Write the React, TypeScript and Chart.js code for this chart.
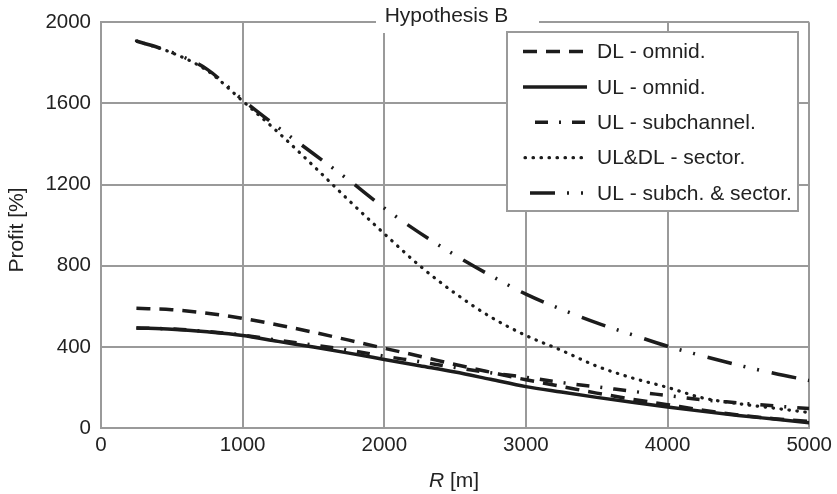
import { useEffect, useRef } from "react";
import { Chart, registerables } from "chart.js";

Chart.register(...registerables);

// R [m]
const radii = [250, 500, 750, 1000, 1250, 1500, 1750, 2000, 2250, 2500, 2750, 3000, 3250, 3500, 3750, 4000, 4250, 4500, 4750, 5000];
// Profit [%]
const dlOmnid = [590, 583, 566, 540, 508, 472, 433, 393, 354, 313, 275, 238, 205, 172, 142, 115, 88, 64, 46, 32];
const ulOmnid = [493, 487, 474, 456, 427, 399, 369, 338, 307, 276, 240, 204, 177, 151, 127, 104, 82, 62, 44, 26];
const ulSubchannel = [493, 488, 476, 458, 433, 409, 384, 354, 327, 298, 272, 250, 224, 203, 181, 160, 139, 124, 109, 96];
const ulDlSector = [1908, 1850, 1762, 1612, 1458, 1292, 1122, 958, 800, 664, 548, 456, 383, 305, 247, 200, 148, 120, 98, 76];
const ulSubchSector = [1908, 1852, 1768, 1618, 1482, 1352, 1222, 1084, 962, 852, 752, 660, 585, 518, 460, 403, 355, 310, 270, 234];

const seriesLabels = ["DL - omnid.", "UL - omnid.", "UL - subchannel.", "UL&DL - sector.", "UL - subch. & sector."];
const seriesValues = [dlOmnid, ulOmnid, ulSubchannel, ulDlSector, ulSubchSector];
const seriesDashes = [[14, 9], [], [13, 11, 2, 11], [0.5, 7.5], [25, 12, 2, 12, 2, 13]];
const seriesCaps = ["butt", "butt", "butt", "round", "butt"];
const seriesWidths = [3.5, 3.5, 3.5, 3.2, 3.5];

const xTicks = [0, 1000, 2000, 3000, 4000, 5000];
const yTicks = [0, 400, 800, 1200, 1600, 2000];

const titleText = "Hypothesis B";
const FONT = "Liberation Sans, Arial, Helvetica, sans-serif";
const GRID = "#9a9a9a";
const INK = "#1c1c1c";
const TEXT = "#222222";

const decorPlugin = {
  id: "decor",
  afterDraw(chart: any) {
    const ctx = chart.ctx as CanvasRenderingContext2D;
    ctx.save();
    // title box interrupting top frame
    ctx.fillStyle = "#ffffff";
    ctx.fillRect(376, 0, 163, 33);
    ctx.fillStyle = TEXT;
    ctx.font = `21px ${FONT}`;
    ctx.textAlign = "center";
    ctx.textBaseline = "alphabetic";
    ctx.fillText(titleText, 446.5, 21.5);

    // legend box
    const lx = 507, ly = 32, lw = 291, lh = 179;
    ctx.fillStyle = "#ffffff";
    ctx.fillRect(lx, ly, lw, lh);
    ctx.strokeStyle = GRID;
    ctx.lineWidth = 2;
    ctx.strokeRect(lx, ly, lw, lh);
    const sampleStarts = [523, 523, 535, 525, 530];
    chart.data.datasets.forEach((ds: any, i: number) => {
      const y = 51.5 + i * 35.4;
      ctx.save();
      ctx.strokeStyle = INK;
      ctx.lineWidth = ds.borderWidth;
      ctx.lineCap = ds.borderCapStyle;
      ctx.setLineDash(ds.borderDash || []);
      ctx.beginPath();
      ctx.moveTo(sampleStarts[i], y);
      ctx.lineTo(587, y);
      ctx.stroke();
      ctx.restore();
      ctx.fillStyle = TEXT;
      ctx.font = `21px ${FONT}`;
      ctx.textAlign = "left";
      ctx.textBaseline = "middle";
      ctx.fillText(ds.label, 597, y + 1);
    });

    // axis titles
    ctx.fillStyle = TEXT;
    ctx.textBaseline = "alphabetic";
    ctx.font = `italic 21px ${FONT}`;
    const rW = ctx.measureText("R").width;
    ctx.font = `21px ${FONT}`;
    const restW = ctx.measureText(" [m]").width;
    const startX = 454 - (rW + restW) / 2;
    ctx.textAlign = "left";
    ctx.font = `italic 21px ${FONT}`;
    ctx.fillText("R", startX, 487);
    ctx.font = `21px ${FONT}`;
    ctx.fillText(" [m]", startX + rW, 487);

    ctx.translate(17, 230);
    ctx.rotate(-Math.PI / 2);
    ctx.textAlign = "center";
    ctx.textBaseline = "middle";
    ctx.fillText("Profit [%]", 0, 0);
    ctx.restore();
  },
};

export default function App() {
  const canvasRef = useRef<HTMLCanvasElement | null>(null);

  useEffect(() => {
    const canvas = canvasRef.current;
    if (!canvas) return;
    const chart = new Chart(canvas, {
      type: "line",
      data: {
        datasets: seriesLabels.map((label, i) => ({
          label,
          data: radii.map((r, j) => ({ x: r, y: seriesValues[i][j] })),
          borderColor: INK,
          backgroundColor: INK,
          borderWidth: seriesWidths[i],
          borderDash: seriesDashes[i],
          borderCapStyle: seriesCaps[i] as any,
          pointRadius: 0,
          fill: false,
          cubicInterpolationMode: "monotone" as const,
        })),
      },
      options: {
        animation: false,
        responsive: true,
        maintainAspectRatio: false,
        layout: { padding: { top: 21, right: 27, left: 0, bottom: 0 } },
        plugins: {
          legend: { display: false },
          tooltip: { enabled: false },
          title: { display: false },
        },
        scales: {
          x: {
            type: "linear",
            min: 0,
            max: 5000,
            afterFit: (s: any) => { s.height = 66; },
            afterBuildTicks: (s: any) => { s.ticks = xTicks.map((v) => ({ value: v })); },
            ticks: { color: TEXT, font: { family: FONT, size: 20.5 }, padding: 5, maxRotation: 0, callback: (v: any) => String(v) },
            grid: { color: GRID, lineWidth: 2, drawTicks: false },
            border: { color: GRID, width: 2 },
          },
          y: {
            type: "linear",
            min: 0,
            max: 2000,
            afterFit: (s: any) => { s.width = 101; },
            afterBuildTicks: (s: any) => { s.ticks = yTicks.map((v) => ({ value: v })); },
            ticks: { color: TEXT, font: { family: FONT, size: 20.5 }, padding: 10, callback: (v: any) => String(v) },
            grid: { color: GRID, lineWidth: 2, drawTicks: false },
            border: { color: GRID, width: 2 },
          },
        },
      },
      plugins: [decorPlugin],
    });
    return () => chart.destroy();
  }, []);

  return (
    <div style={{ position: "fixed", left: 0, top: 0, width: 837, height: 494, background: "#fff" }}>
      <canvas ref={canvasRef} />
    </div>
  );
}
